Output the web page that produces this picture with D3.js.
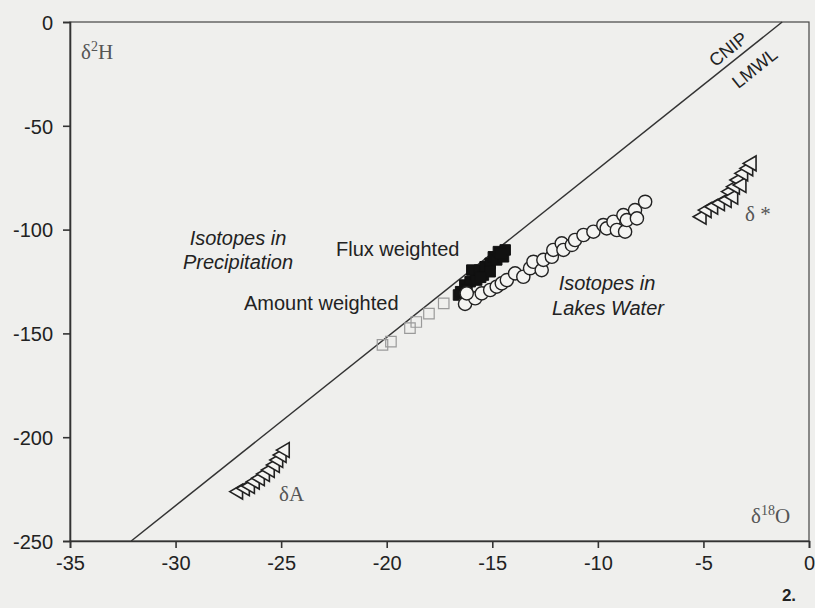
<!DOCTYPE html>
<html>
<head>
<meta charset="utf-8">
<script src="https://cdn.jsdelivr.net/npm/d3@7"></script>
<style>
  body { margin: 0; background: #efefed; }
  svg { display: block; }
  .tick text { font-family: "Liberation Sans", Arial, sans-serif; font-size: 20px; fill: #222; }
  .note { font-family: "Liberation Sans", Arial, sans-serif; font-size: 20px; fill: #222; }
  .delta { font-family: "Liberation Serif", "Times New Roman", serif; font-size: 21px; fill: #555; }
</style>
</head>
<body>
<svg id="chart" width="815" height="608"></svg>
<script>
// axis ticks
const xTicks = [-35, -30, -25, -20, -15, -10, -5, 0];
const yTicks = [0, -50, -100, -150, -200, -250];

// LMWL end points [d18O, d2H]
const lmwl = [[-32.1, -250], [-1.27, 0]];

// amount weighted precipitation (grey squares)
const amountWeighted = [
  [-17.3, -135.5], [-18.0, -140.5], [-18.6, -144.5], [-18.9, -147.5],
  [-19.8, -154.0], [-20.2, -155.5]
];

// flux weighted precipitation (black squares)
const fluxWeighted = [
  [-16.6, -131.5], [-16.5, -129.9], [-16.3, -126.7], [-16.05, -125.1],
  [-15.8, -121.9], [-15.74, -124.3], [-15.97, -119.5], [-15.6, -119.5],
  [-15.42, -121.9], [-15.34, -117.9], [-15.1, -116.2], [-15.1, -120.3],
  [-14.95, -113.1], [-14.79, -114.6], [-14.71, -110.6], [-14.47, -113.1],
  [-14.39, -109.8], [-16.2, -128.8], [-15.55, -123.0], [-14.6, -111.5]
];

// lakes water (open circles)
const lakes = [
  [-16.29, -135.8], [-15.81, -133.1], [-16.21, -130.7], [-15.5, -130.7],
  [-15.1, -129.1], [-14.79, -127.5], [-14.55, -125.9], [-14.31, -124.3],
  [-13.92, -121.1], [-13.53, -122.7], [-13.21, -118.6], [-13.05, -115.5],
  [-12.66, -119.5], [-12.58, -114.6], [-12.18, -113.1], [-12.11, -109.8],
  [-11.71, -106.6], [-11.63, -109.8], [-11.23, -107.4], [-11.08, -105.0],
  [-10.68, -102.6], [-10.21, -101.0], [-9.74, -97.8], [-9.58, -99.4],
  [-9.26, -96.2], [-9.1, -100.2], [-8.79, -93.0], [-8.71, -101.0],
  [-8.63, -95.4], [-8.24, -90.6], [-8.15, -94.6], [-7.76, -86.6]
];

// delta A (triangles, lower left)
const deltaA = [
  [-27.03, -226.2], [-26.71, -224.6], [-26.47, -223.5], [-26.24, -221.4],
  [-26.0, -219.8], [-25.76, -217.7], [-25.53, -215.8], [-25.29, -213.4],
  [-25.13, -211.0], [-24.97, -208.6], [-24.82, -206.2]
];

// delta star (triangles, upper right)
const deltaStar = [
  [-5.08, -93.8], [-4.84, -90.6], [-4.53, -89.0], [-4.21, -87.3],
  [-3.89, -85.7], [-3.74, -81.7], [-3.58, -84.2], [-3.5, -79.3],
  [-3.34, -76.1], [-3.19, -78.5], [-3.11, -72.9], [-2.87, -70.5],
  [-2.71, -68.1]
];

const svg = d3.select("#chart");
const margin = { left: 70, top: 22 };
const width = 739;
const height = 519;

const x = d3.scaleLinear().domain([-35, 0]).range([0, width]);
const y = d3.scaleLinear().domain([-250, 0]).range([height, 0]);

const plot = svg.append("g")
  .attr("transform", `translate(${margin.left},${margin.top})`);

// frame
plot.append("rect")
  .attr("width", width)
  .attr("height", height)
  .attr("fill", "none")
  .attr("stroke", "#444")
  .attr("stroke-width", 1.2);

// axes
const leftAxis = d3.axisLeft(y).tickValues(yTicks).tickSize(7).tickPadding(10)
  .tickFormat(d => String(d));
const bottomAxis = d3.axisBottom(x).tickValues(xTicks).tickSize(7).tickPadding(8)
  .tickFormat(d => String(d));
plot.append("g").call(leftAxis)
  .call(g => g.selectAll("line, path").attr("stroke", "#333").attr("stroke-width", 1.6))
  .call(g => g.selectAll("text").attr("dy", "0.36em"));
plot.append("g").attr("transform", `translate(0,${height})`).call(bottomAxis)
  .call(g => g.selectAll("line, path").attr("stroke", "#333").attr("stroke-width", 1.6));

// LMWL line
plot.append("line")
  .attr("x1", x(lmwl[0][0])).attr("y1", y(lmwl[0][1]))
  .attr("x2", x(lmwl[1][0])).attr("y2", y(lmwl[1][1]))
  .attr("stroke", "#333")
  .attr("stroke-width", 1.5);

const ang = Math.atan2(y(lmwl[1][1]) - y(lmwl[0][1]), x(lmwl[1][0]) - x(lmwl[0][0])) * 180 / Math.PI;
plot.append("text").attr("class", "note")
  .attr("transform", `translate(${732 - margin.left},${54 - margin.top}) rotate(${ang})`)
  .attr("text-anchor", "middle")
  .style("font-size", "18px")
  .text("CNIP");
plot.append("text").attr("class", "note")
  .attr("transform", `translate(${749 - margin.left},${61 - margin.top}) rotate(${ang})`)
  .attr("text-anchor", "middle")
  .attr("dy", "0.85em")
  .style("font-size", "18px")
  .text("LMWL");

// amount weighted
plot.selectAll("path.amount")
  .data(amountWeighted)
  .join("path")
  .attr("class", "amount")
  .attr("transform", d => `translate(${x(d[0])},${y(d[1])})`)
  .attr("d", d3.symbol(d3.symbolSquare, 110))
  .attr("fill", "none")
  .attr("stroke", "#9a9a9a")
  .attr("stroke-width", 1.2);

// flux weighted
plot.selectAll("path.flux")
  .data(fluxWeighted)
  .join("path")
  .attr("class", "flux")
  .attr("transform", d => `translate(${x(d[0])},${y(d[1])})`)
  .attr("d", d3.symbol(d3.symbolSquare, 110))
  .attr("fill", "#111")
  .attr("stroke", "#111");

// lakes
plot.selectAll("circle.lake")
  .data(lakes)
  .join("circle")
  .attr("class", "lake")
  .attr("cx", d => x(d[0]))
  .attr("cy", d => y(d[1]))
  .attr("r", 6.6)
  .attr("fill", "#f4f4f2")
  .attr("stroke", "#222")
  .attr("stroke-width", 1.4);

// triangles
const tri = d3.symbol(d3.symbolTriangle, 95);
[deltaA, deltaStar].forEach((set, i) => {
  plot.selectAll(`path.tri${i}`)
    .data(set)
    .join("path")
    .attr("class", `tri${i}`)
    .attr("transform", d => `translate(${x(d[0])},${y(d[1])}) rotate(-90)`)
    .attr("d", tri)
    .attr("fill", "#f4f4f2")
    .attr("stroke", "#222")
    .attr("stroke-width", 1.6);
});

// text annotations
const notes = svg.append("g").attr("class", "note");
notes.append("text").attr("x", 238).attr("y", 245).attr("text-anchor", "middle")
  .style("font-style", "italic").text("Isotopes in");
notes.append("text").attr("x", 238).attr("y", 269).attr("text-anchor", "middle")
  .style("font-style", "italic").text("Precipitation");
notes.append("text").attr("x", 336).attr("y", 256).text("Flux weighted");
notes.append("text").attr("x", 244).attr("y", 310).text("Amount weighted");
notes.append("text").attr("x", 607).attr("y", 290).attr("text-anchor", "middle")
  .style("font-style", "italic").text("Isotopes in");
notes.append("text").attr("x", 608).attr("y", 315).attr("text-anchor", "middle")
  .style("font-style", "italic").text("Lakes Water");

const d2h = svg.append("text").attr("class", "delta").attr("x", 81).attr("y", 59);
d2h.append("tspan").text("δ");
d2h.append("tspan").attr("dy", -8).style("font-size", "14px").text("2");
d2h.append("tspan").attr("dy", 8).text("H");

const d18o = svg.append("text").attr("class", "delta").attr("x", 751).attr("y", 523);
d18o.append("tspan").text("δ");
d18o.append("tspan").attr("dy", -8).style("font-size", "14px").text("18");
d18o.append("tspan").attr("dy", 8).text("O");

svg.append("text").attr("class", "delta").attr("x", 279).attr("y", 501).text("δA");
svg.append("text").attr("class", "delta").attr("x", 745).attr("y", 221).text("δ *");

svg.append("text")
  .attr("x", 789).attr("y", 601)
  .attr("text-anchor", "middle")
  .style("font-family", "Liberation Sans, Arial, sans-serif")
  .style("font-weight", "bold")
  .style("font-size", "17px")
  .style("fill", "#222")
  .text("2.");
</script>
</body>
</html>
